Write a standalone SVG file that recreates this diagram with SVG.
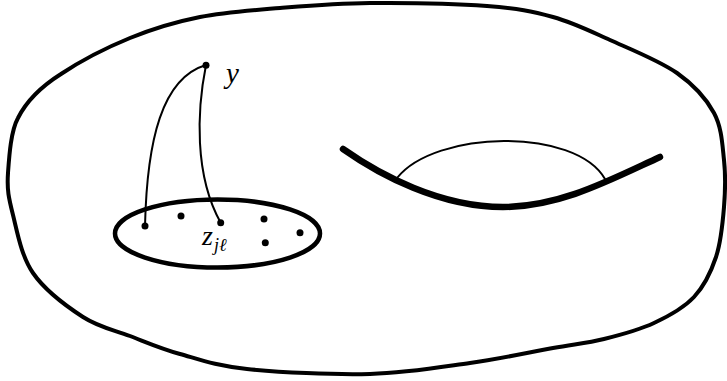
<svg xmlns="http://www.w3.org/2000/svg" width="727" height="381" viewBox="0 0 727 381">
<style>
.line{fill:none;stroke:#000;stroke-linecap:round}
.dot{fill:#000}
.math{font-family:"Liberation Serif","DejaVu Serif",serif;font-style:italic;fill:#000}
</style>
<rect width="727" height="381" fill="#fff"/>
<g id="surface">
<path class="line" stroke-width="4" d="M370,3 C404.5,2.7 456.5,3.7 487,6 C517.5,8.3 532.5,11.3 553,17 C573.5,22.7 589.3,30.7 610,40 C630.7,49.3 659.7,60.8 677,73 C694.3,85.2 706.2,98.5 714,113 C721.8,127.5 722.3,144.3 724,160 C725.7,175.7 725.3,190.8 724,207 C722.7,223.2 721,242 716,257 C711,272 704.3,286 694,297 C683.7,308 669,316 654,323 C639,330 620.8,334.8 604,339 C587.2,343.2 575.3,344 553,348 C530.7,352 500.5,358.7 470,363 C439.5,367.3 407.2,373 370,374 C332.8,375 278.7,372.3 247,369 C215.3,365.7 199.5,359.5 180,354 C160.5,348.5 146.2,342.2 130,336 C113.8,329.8 99.2,327.5 83,317 C66.8,306.5 44.7,290 33,273 C21.3,256 17.2,231.7 13,215 C8.8,198.3 6.8,190 8,173 C9.2,156 10.8,131 18,118 C26,102 42,86 61,74 C81.3,60.5 107.2,47.3 130,38 C152.8,28.7 175,22 200,17 C225,12 251.7,10.3 280,8 C308.3,5.7 335.5,3.3 370,3 Z"/>
</g>
<g id="handle">
<path class="line" stroke-width="6.5" stroke-linecap="butt" d="M343,149 C380,175 440,207 503,207 C560,207 610,180 660,157"/>
<path class="line" stroke-width="2" d="M397,178 C435,130 575,127 605,179"/>
</g>
<g id="disk">
<ellipse cx="217.5" cy="233.5" rx="102.5" ry="34" fill="none" stroke="#000" stroke-width="4.5"/>
</g>
<g id="connectors">
<path class="line" stroke-width="2" d="M206,65 C162,78 147,140 145,226"/>
<path class="line" stroke-width="2" d="M206,65 C197,110 194,175 220.7,222.7"/>
</g>
<g id="node-y">
<circle class="dot" cx="206" cy="65.3" r="3.5"/>
<text class="math" x="226" y="83" font-size="29">y</text>
</g>
<g id="node-z">
<circle class="dot" cx="145" cy="226" r="3.5"/>
<circle class="dot" cx="181" cy="216" r="3.5"/>
<circle class="dot" cx="220.7" cy="222.7" r="3.5"/>
<circle class="dot" cx="264" cy="219" r="3.5"/>
<circle class="dot" cx="300" cy="232.7" r="3.5"/>
<circle class="dot" cx="265.3" cy="242.7" r="3.5"/>
<text class="math" x="202" y="245" font-size="28">z</text>
<text class="math" x="214" y="251" font-size="18">jℓ</text>
</g>
</svg>
